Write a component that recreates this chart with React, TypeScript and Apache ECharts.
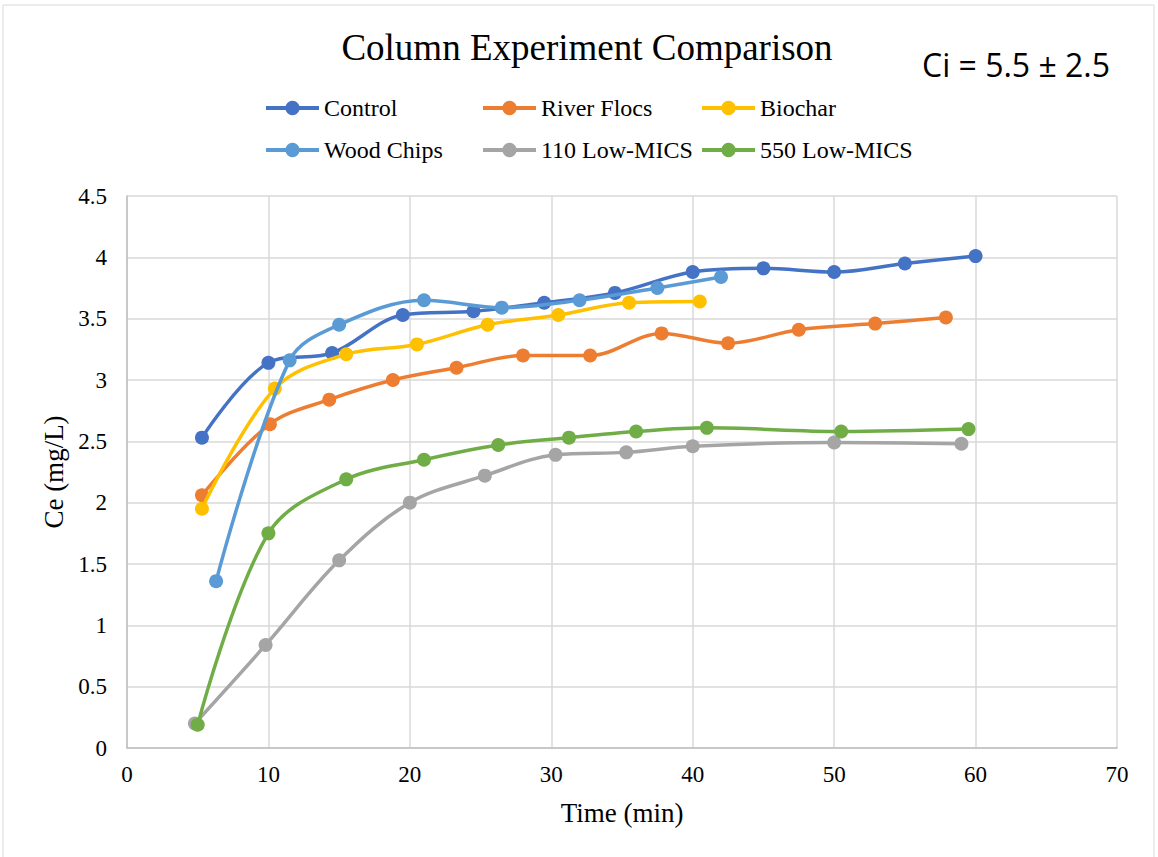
import React, { useEffect, useRef } from "react";
import * as echarts from "echarts";

const controlT = [5.3, 10, 14.5, 19.5, 24.5, 29.5, 34.5, 40, 45, 50, 55, 60];
const controlV = [2.53, 3.14, 3.22, 3.53, 3.56, 3.63, 3.71, 3.88, 3.91, 3.88, 3.95, 4.01];
const riverT = [5.3, 10.1, 14.3, 18.8, 23.3, 28, 32.75, 37.8, 42.5, 47.5, 52.9, 57.9];
const riverV = [2.06, 2.64, 2.84, 3.0, 3.1, 3.2, 3.2, 3.38, 3.3, 3.41, 3.46, 3.51];
const biocharT = [5.3, 10.45, 15.5, 20.5, 25.5, 30.5, 35.5, 40.5];
const biocharV = [1.95, 2.93, 3.21, 3.29, 3.45, 3.53, 3.63, 3.64];
const woodT = [6.3, 11.5, 15, 21, 26.5, 32, 37.5, 42];
const woodV = [1.36, 3.16, 3.45, 3.65, 3.59, 3.65, 3.75, 3.84];
const low110T = [4.8, 9.8, 15, 20, 25.3, 30.3, 35.3, 40, 50, 59];
const low110V = [0.2, 0.84, 1.53, 2.0, 2.22, 2.39, 2.41, 2.46, 2.49, 2.48];
const low550T = [5, 10, 15.5, 21, 26.25, 31.25, 36, 41, 50.5, 59.5];
const low550V = [0.19, 1.75, 2.19, 2.35, 2.47, 2.53, 2.58, 2.61, 2.58, 2.6];

const seriesNames = ["Control", "River Flocs", "Biochar", "Wood Chips", "110 Low-MICS", "550 Low-MICS"];
const seriesColors = ["#4472C4", "#ED7D31", "#FFC000", "#5B9BD5", "#A5A5A5", "#70AD47"];
const seriesT = [controlT, riverT, biocharT, woodT, low110T, low550T];
const seriesV = [controlV, riverV, biocharV, woodV, low110V, low550V];

const SERIF = "'Liberation Serif', 'Times New Roman', serif";

export default function App() {
  const ref = useRef<HTMLDivElement>(null);
  useEffect(() => {
    if (!ref.current) return;
    const chart = echarts.init(ref.current, null, { renderer: "svg" });
    const series = seriesNames.map((name, i) => ({
      name,
      type: "line",
      smooth: 0.35,
      data: seriesT[i].map((t, j) => [t, seriesV[i][j]]),
      symbol: "circle",
      symbolSize: 14,
      showSymbol: true,
      itemStyle: { color: seriesColors[i] },
      lineStyle: { color: seriesColors[i], width: 3.5 },
      z: 2 + i,
    }));
    const legendCol = (left: number, names: string[]) => ({
      left,
      top: 91,
      orient: "vertical",
      itemGap: 18,
      itemWidth: 53,
      itemHeight: 18,
      data: names,
      lineStyle: { width: 4 },
      textStyle: { fontFamily: SERIF, fontSize: 24, color: "#000" },
    });
    chart.setOption({
      animation: false,
      backgroundColor: "#fff",
      title: {
        text: "Column Experiment Comparison",
        left: 582,
        top: 24,
        textAlign: "center",
        textStyle: { fontFamily: SERIF, fontSize: 37, fontWeight: "normal", color: "#000" },
      },
      graphic: [
        {
          type: "rect",
          shape: { x: 3, y: 5, width: 1151, height: 870 },
          style: { fill: "none", stroke: "#d9d9d9", lineWidth: 1 },
          silent: true,
        },
        {
          type: "text",
          x: 1016,
          y: 64,
          style: {
            text: "Ci = 5.5 ± 2.5",
            font: "32px 'Open Sans', 'Noto Sans', sans-serif",
            fill: "#000",
            textAlign: "center",
            textVerticalAlign: "middle",
          },
        },
      ],
      legend: [
        legendCol(259, ["Control", "Wood Chips"]),
        legendCol(476, ["River Flocs", "110 Low-MICS"]),
        legendCol(695, ["Biochar", "550 Low-MICS"]),
      ],
      grid: { left: 127, right: 41, top: 196, bottom: 109, containLabel: false },
      xAxis: {
        type: "value",
        min: 0,
        max: 70,
        interval: 10,
        name: "Time (min)",
        nameLocation: "middle",
        nameGap: 51,
        nameTextStyle: { fontFamily: SERIF, fontSize: 27, color: "#000" },
        axisLine: { show: true, lineStyle: { color: "#bfbfbf", width: 1.5 } },
        axisTick: { show: false },
        axisLabel: { fontFamily: SERIF, fontSize: 23, color: "#000", margin: 15 },
        splitLine: { show: true, lineStyle: { color: "#d9d9d9", width: 1.5 } },
      },
      yAxis: {
        type: "value",
        min: 0,
        max: 4.5,
        interval: 0.5,
        name: "Ce (mg/L)",
        nameLocation: "middle",
        nameGap: 58,
        nameRotate: 90,
        nameTextStyle: { fontFamily: SERIF, fontSize: 27, color: "#000" },
        axisLine: { show: true, lineStyle: { color: "#bfbfbf", width: 1.5 } },
        axisTick: { show: false },
        axisLabel: { fontFamily: SERIF, fontSize: 23, color: "#000", margin: 20 },
        splitLine: { show: true, lineStyle: { color: "#d9d9d9", width: 1.5 } },
      },
      series,
    });
    return () => chart.dispose();
  }, []);
  return (
    <div
      ref={ref}
      style={{ position: "absolute", left: 0, top: 0, width: 1158, height: 857 }}
    />
  );
}
